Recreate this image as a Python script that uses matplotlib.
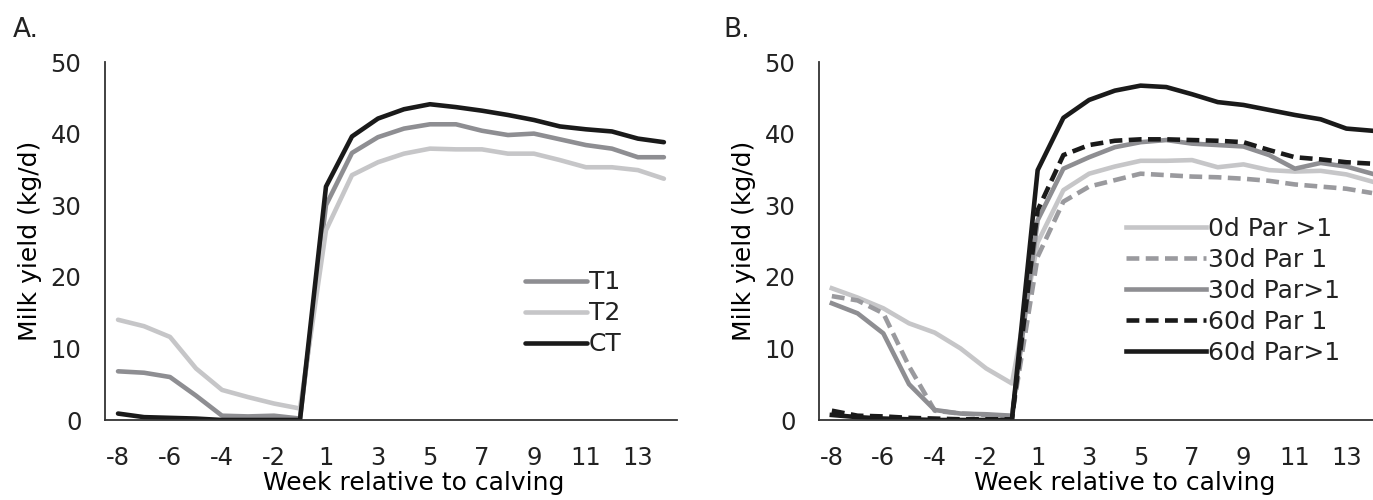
import matplotlib

matplotlib.use("Agg")
from matplotlib import pyplot as plt

# weeks relative to calving (no week 0)
weeks = [-8, -7, -6, -5, -4, -3, -2, -1, 1, 2, 3, 4, 5, 6, 7, 8, 9, 10, 11, 12, 13, 14]

# panel A
t1 = [6.8, 6.6, 6.0, 3.4, 0.6, 0.5, 0.6, 0.2,
      30.0, 37.3, 39.5, 40.7, 41.3, 41.3, 40.4, 39.8, 40.0, 39.2, 38.4, 37.9, 36.7, 36.7]
t2 = [14.0, 13.1, 11.6, 7.2, 4.2, 3.2, 2.3, 1.6,
      26.5, 34.2, 36.0, 37.2, 37.9, 37.8, 37.8, 37.2, 37.2, 36.3, 35.3, 35.3, 34.9, 33.7]
ct = [0.9, 0.4, 0.3, 0.2, 0.0, 0.0, 0.0, 0.0,
      32.6, 39.6, 42.1, 43.4, 44.1, 43.7, 43.2, 42.6, 41.9, 41.0, 40.6, 40.3, 39.3, 38.8]

# panel B
d0_par2 = [18.4, 17.1, 15.6, 13.5, 12.2, 10.0, 7.2, 5.1,
           24.8, 32.1, 34.4, 35.4, 36.2, 36.2, 36.3, 35.3, 35.7, 34.9, 34.7, 34.8, 34.3, 33.3]
d30_par1 = [17.3, 16.7, 14.9, 7.5, 1.3, 0.9, 0.7, 0.5,
            22.8, 30.5, 32.6, 33.5, 34.4, 34.2, 34.0, 33.9, 33.7, 33.4, 32.9, 32.6, 32.3, 31.7]
d30_par2 = [16.3, 14.9, 12.1, 5.0, 1.4, 0.9, 0.8, 0.6,
            27.9, 35.1, 36.7, 38.1, 38.8, 39.1, 38.6, 38.4, 38.2, 37.0, 35.1, 35.9, 35.4, 34.4]
d60_par1 = [1.3, 0.6, 0.5, 0.3, 0.2, 0.1, 0.1, 0.1,
            29.3, 37.0, 38.4, 39.0, 39.2, 39.2, 39.1, 39.0, 38.8, 37.7, 36.7, 36.4, 36.0, 35.8]
d60_par2 = [0.7, 0.4, 0.2, 0.1, 0.0, 0.0, 0.0, 0.0,
            34.9, 42.2, 44.7, 46.0, 46.7, 46.5, 45.5, 44.4, 44.0, 43.3, 42.6, 42.0, 40.7, 40.4]

LIGHT = "#c6c6c8"
MID = "#8e8e92"
MID2 = "#9a9a9e"
DARK = "#1a1a1a"
LW = 3.3
DASH = (2.8, 1.4)
FS = 18
TICK_FS = 17.5

plt.rcParams["font.family"] = "DejaVu Sans"
plt.rcParams["text.color"] = "#222222"

fig = plt.figure(figsize=(13.73, 5), dpi=100)
ax_a = fig.add_axes([0.0765, 0.16, 0.4165, 0.716])
ax_b = fig.add_axes([0.5965, 0.16, 0.4122, 0.716])

x = list(range(len(weeks)))


def style_axis(ax: plt.Axes) -> None:
    for side in ("top", "right"):
        ax.spines[side].set_visible(False)
    for side in ("left", "bottom"):
        ax.spines[side].set_color("#333333")
        ax.spines[side].set_linewidth(1.3)
    ax.set_xlim(-0.5, len(weeks) - 0.5)
    ax.set_ylim(0, 50)
    ax.set_yticks([0, 10, 20, 30, 40, 50])
    ax.set_xticks(x[::2])
    ax.set_xticklabels([str(w) for w in weeks[::2]])
    ax.tick_params(length=0, labelsize=TICK_FS, colors="#222222")
    ax.tick_params(axis="x", pad=19)
    ax.tick_params(axis="y", pad=17)
    ax.set_xlabel("Week relative to calving", fontsize=FS)
    ax.xaxis.set_label_coords(0.54, -0.143)
    ax.set_ylabel("Milk yield (kg/d)", fontsize=FS, labelpad=6)


ax_a.plot(x, t1, color=MID, lw=LW, label="T1", solid_capstyle="round")
ax_a.plot(x, t2, color=LIGHT, lw=LW, label="T2", solid_capstyle="round")
ax_a.plot(x, ct, color=DARK, lw=LW, label="CT", solid_capstyle="round")
style_axis(ax_a)
ax_a.legend(loc="upper left", bbox_to_anchor=(0.735, 0.418), frameon=False,
            fontsize=FS, handlelength=2.45, handletextpad=0.08,
            labelspacing=0.28, borderaxespad=0, borderpad=0)

ax_b.plot(x, d0_par2, color=LIGHT, lw=LW, label="0d Par >1")
ax_b.plot(x, d30_par1, color=MID2, lw=LW, dashes=DASH, label="30d Par 1")
ax_b.plot(x, d30_par2, color=MID, lw=LW, label="30d Par>1")
ax_b.plot(x, d60_par1, color=DARK, lw=LW, dashes=DASH, label="60d Par 1")
ax_b.plot(x, d60_par2, color=DARK, lw=LW, label="60d Par>1")
style_axis(ax_b)
ax_b.legend(loc="upper left", bbox_to_anchor=(0.542, 0.568), frameon=False,
            fontsize=FS, handlelength=3.2, handletextpad=0.08,
            labelspacing=0.28, borderaxespad=0, borderpad=0)

fig.text(0.009, 0.94, "A.", fontsize=19, va="center")
fig.text(0.527, 0.94, "B.", fontsize=19, va="center")

fig.savefig("out.png", dpi=100)
